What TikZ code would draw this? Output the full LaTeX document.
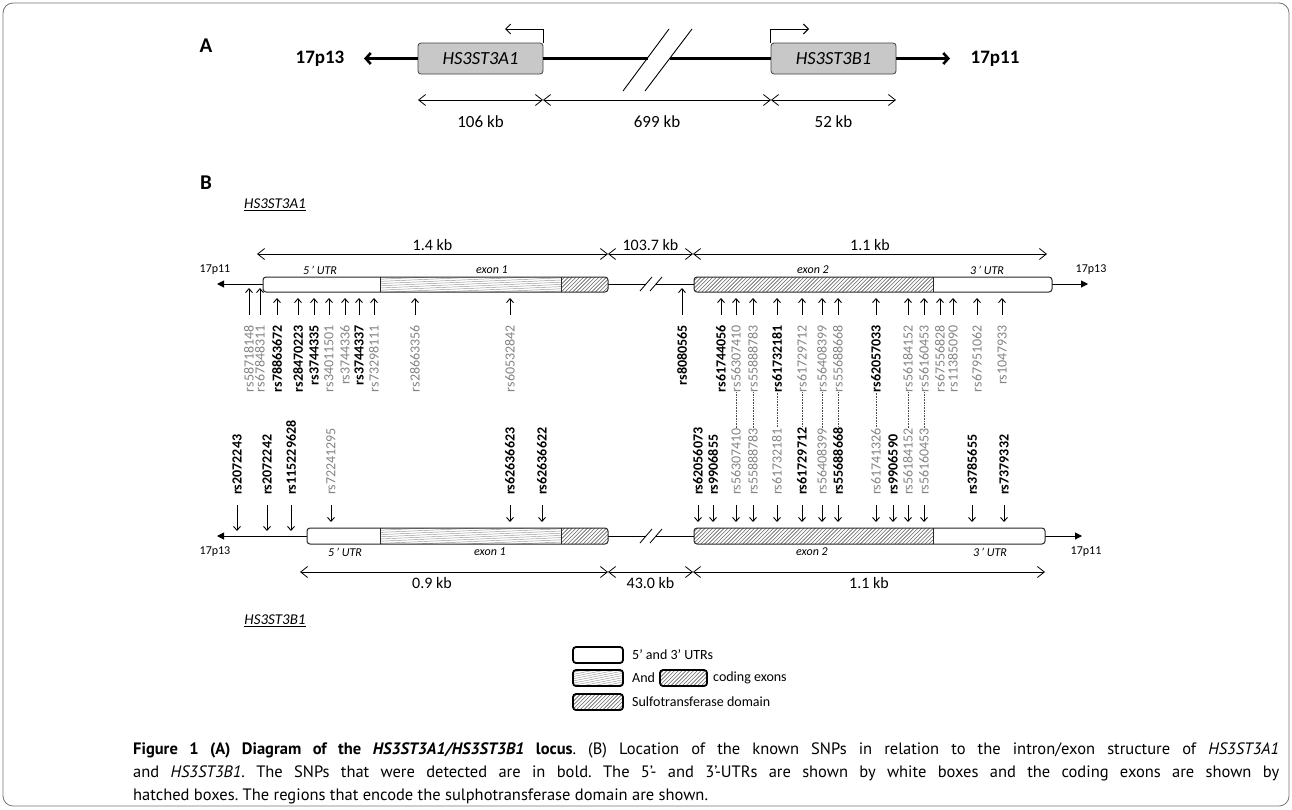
\documentclass[tikz,border=0pt]{standalone}
\usepackage{fontspec}
\setmainfont{Carlito}
\newfontfamily\capfont{PT Sans}
\usetikzlibrary{arrows.meta}
\definecolor{snpgray}{RGB}{132,132,132}
\definecolor{boxgray}{RGB}{200,200,200}
\definecolor{hatchc}{RGB}{100,100,100}
\definecolor{stripec}{RGB}{150,150,150}
\newcommand\fs[1]{\fontsize{#1}{#1}\selectfont}
\newcommand\hatchfill[4]{%
  \begin{scope}
    \clip (#1,#2) rectangle (#3,#4);
    \pgfmathsetmacro\hh{#4-#2}
    \pgfmathtruncatemacro\nn{(#3-#1+\hh)/3.8+1}
    \foreach \k in {0,...,\nn}{\draw[hatchline] ({#1-\hh+\k*3.8},#4) -- ++(\hh,-\hh);}
  \end{scope}}
\newcommand\stripefill[5]{%
  \begin{scope}
    \clip (#1,#2) rectangle (#3,#4);
    \foreach \k in {0,...,16}{\draw[stripeline] (#1,{#2+\k*2.2}) -- (#3,{#2+\k*2.2-#5});}
  \end{scope}}
\begin{document}
\frenchspacing
\begin{tikzpicture}[x=1pt,y=-1pt,
  every node/.style={inner sep=0pt},
  hatchline/.style={draw=hatchc, line width=0.6pt},
  stripeline/.style={draw=stripec, line width=0.45pt},
  boxline/.style={draw=black!85, line width=1pt},
  chrline/.style={draw=black, line width=1pt},
  chrtip/.style={-{Triangle[length=7pt,width=7pt]}},
  dimarr/.style={<->, >={Straight Barb[length=7pt,width=11pt]}, line width=0.8pt},
  snparr/.style={->, >={Straight Barb[length=4pt,width=7pt]}, line width=0.9pt},
  dotline/.style={densely dotted, line width=0.6pt, draw=black!70},
  snpT/.style={rotate=90, anchor=east},
  snpB/.style={rotate=90, anchor=west},
  kb/.style={font=\fs{16}},
  kbA/.style={font=\fs{17}},
  small/.style={font=\fs{12}},
  smallit/.style={font=\fs{12}\itshape},
  boxA/.style={draw=black!75, fill=boxgray, rounded corners=3pt, minimum width=125pt, minimum height=31pt, font=\fs{18.5}\itshape, line width=0.8pt},
  chrlbl/.style={font=\fs{19}\bfseries},
  promo/.style={->, >={Straight Barb[length=5pt,width=10pt]}, line width=0.9pt},
  thickchr/.style={line width=2.6pt},
  legbox/.style={draw=black, line width=1.8pt, rounded corners=3pt},
  legtext/.style={anchor=west, font=\fs{14}},
  captext/.style={anchor=west, font=\capfont\fs{16.5}}
]
\useasboundingbox (0,0) rectangle (1292,809);
\draw[draw=black!55, line width=0.8pt, rounded corners=10pt] (3,3) rectangle (1289,806);

% ---------------- Panel A
\node[font=\fs{21}\bfseries] (lblA) at (206,46) {A};
\node[chrlbl] (c13) at (320,58.5) {17p13};
\node[boxA] (g1) at (480.5,58.5) {HS3ST3A1};
\node[boxA] (g2) at (833.5,58.5) {HS3ST3B1};
\node[chrlbl] (c11) at (995,58.5) {17p11};
\coordinate (tipA1) at (364,58.5);
\coordinate (tipA2) at (950,58.5);
\draw[thickchr, -{Straight Barb[length=5pt,width=11pt]}] (g1.west) -- (tipA1);
\draw[thickchr, -{Straight Barb[length=5pt,width=11pt]}] (g2.east) -- (tipA2);
\coordinate (brk1) at (648,58.5);
\coordinate (brk2) at (670,58.5);
\draw[thickchr] (g1.east) -- (brk1) (brk2) -- (g2.west);
\coordinate (s1a) at (623,91); \coordinate (s1b) at (669,29);
\coordinate (s2a) at (645,91); \coordinate (s2b) at (692,29);
\draw[line width=0.9pt] (s1a) -- (s1b) (s2a) -- (s2b);
\coordinate (pA) at (505,29);
\coordinate (pB) at (809,29);
\draw[promo] (g1.north east) |- (pA);
\draw[promo] (g2.north west) |- (pB);
\coordinate (a0) at (418,100); \coordinate (a1) at (543,100);
\coordinate (a2) at (771,100); \coordinate (a3) at (896,100);
\draw[dimarr] (a0) -- node[kbA, yshift=-22pt] (k106) {106 kb} (a1);
\draw[dimarr] (a1) -- node[kbA, yshift=-22pt] (k699) {699 kb} (a2);
\draw[dimarr] (a2) -- node[kbA, yshift=-22pt] (k52) {52 kb} (a3);

% ---------------- Panel B
\node[font=\fs{21}\bfseries] (lblB) at (206,183) {B};
\node[font=\fs{15}\itshape] (tA) at (275,205) {\underline{HS3ST3A1}};
\node[font=\fs{15}\itshape] (tB) at (275,621) {\underline{HS3ST3B1}};

% top dimension arrows
\coordinate (d0) at (257,254); \coordinate (d1) at (608,254);
\coordinate (d2) at (693,254); \coordinate (d3) at (1047,254);
\draw[dimarr] (d0) -- node[kb, yshift=9pt] (k14) {1.4 kb} (d1);
\draw[dimarr] (d1) -- node[kb, yshift=9pt] (k103) {103.7 kb} (d2);
\draw[dimarr] (d2) -- node[kb, yshift=9pt] (k11a) {1.1 kb} (d3);

% top gene
\node[small] (e11) at (215,270) {17p11};
\node[small] (e13) at (1091,270) {17p13};
\node[smallit] (u5a) at (320,270) {5\,’ UTR};
\node[smallit] (x1a) at (492,270) {exon 1};
\node[smallit] (x2a) at (813,270) {exon 2};
\node[smallit] (u3a) at (987,270) {3\,’ UTR};
\coordinate (tl1) at (263,284); \coordinate (tt1) at (217,284);
\coordinate (tl2) at (608,284); \coordinate (tl3) at (646,284);
\coordinate (tl4) at (656,284); \coordinate (tl5) at (694,284);
\coordinate (tl6) at (1052,284); \coordinate (tt2) at (1088,284);
\draw[chrline, chrtip] (tl1) -- (tt1);
\draw[chrline] (tl2) -- (tl3) (tl4) -- (tl5);
\draw[chrline, chrtip] (tl6) -- (tt2);
\draw[line width=0.8pt] (640,291) -- (652,277) (650,291) -- (662,277);
\begin{scope}
  \clip[rounded corners=3pt] (263,277) rectangle (608,292);
  \fill[white] (263,277) rectangle (608,292);
  \stripefill{380}{277}{561}{292}{8}
  \hatchfill{561}{277}{608}{292}
\end{scope}
\draw[boxline, rounded corners=3pt] (263,277) rectangle (608,292);
\draw[boxline] (380,277) -- (380,292) (561,277) -- (561,292);
\begin{scope}
  \clip[rounded corners=3pt] (694,277) rectangle (1052,292);
  \fill[white] (694,277) rectangle (1052,292);
  \hatchfill{694}{277}{933}{292}
\end{scope}
\draw[boxline, rounded corners=3pt] (694,277) rectangle (1052,292);
\draw[boxline] (933,277) -- (933,292);

% bottom gene
\node[small] (f13) at (215,552) {17p13};
\node[small] (f11) at (1086,552) {17p11};
\node[smallit] (u5b) at (345,552) {5\,’ UTR};
\node[smallit] (x1b) at (490,552) {exon 1};
\node[smallit] (x2b) at (812,552) {exon 2};
\node[smallit] (u3b) at (990,552) {3\,’ UTR};
\coordinate (bl1) at (307,536); \coordinate (bt1) at (217,536);
\coordinate (bl2) at (608,536); \coordinate (bl3) at (646,536);
\coordinate (bl4) at (656,536); \coordinate (bl5) at (694,536);
\coordinate (bl6) at (1045,536); \coordinate (bt2) at (1082,536);
\draw[chrline, chrtip] (bl1) -- (bt1);
\draw[chrline] (bl2) -- (bl3) (bl4) -- (bl5);
\draw[chrline, chrtip] (bl6) -- (bt2);
\draw[line width=0.8pt] (640,543) -- (652,529) (650,543) -- (662,529);
\begin{scope}
  \clip[rounded corners=3pt] (307,528) rectangle (608,544);
  \fill[white] (307,528) rectangle (608,544);
  \stripefill{380}{528}{561}{544}{8}
  \hatchfill{561}{528}{608}{544}
\end{scope}
\draw[boxline, rounded corners=3pt] (307,528) rectangle (608,544);
\draw[boxline] (380,528) -- (380,544) (561,528) -- (561,544);
\begin{scope}
  \clip[rounded corners=3pt] (694,528) rectangle (1045,544);
  \fill[white] (694,528) rectangle (1045,544);
  \hatchfill{694}{528}{933}{544}
\end{scope}
\draw[boxline, rounded corners=3pt] (694,528) rectangle (1045,544);
\draw[boxline] (933,528) -- (933,544);

% bottom dimension arrows
\coordinate (e0) at (300,572); \coordinate (e1) at (608,572);
\coordinate (e2) at (693,572); \coordinate (e3) at (1045,572);
\draw[dimarr] (e0) -- (e1);
\node[kb] (k09) at (432,583) {0.9 kb};
\draw[dimarr] (e1) -- node[kb, yshift=-11pt] (k43) {43.0 kb} (e2);
\draw[dimarr] (e2) -- node[kb, yshift=-11pt] (k11b) {1.1 kb} (e3);

% SNP tips
\coordinate (tipT) at (0,298);
\coordinate (tipTL) at (0,288);
\coordinate (tipB) at (0,522);
\coordinate (tipBL) at (0,531);

\foreach \x/\nm/\cl/\ft/\tp [count=\i] in {
 249/rs58718148/snpgray/\mdseries/tipTL,
 260/rs67848311/snpgray/\mdseries/tipTL,
 277/rs78863672/black/\bfseries/tipT,
 298/rs28470223/black/\bfseries/tipT,
 314/rs3744335/black/\bfseries/tipT,
 329/rs34011501/snpgray/\mdseries/tipT,
 345/rs3744336/snpgray/\mdseries/tipT,
 359/rs3744337/black/\bfseries/tipT,
 374/rs73298111/snpgray/\mdseries/tipT,
 415/rs28663356/snpgray/\mdseries/tipT,
 510/rs60532842/snpgray/\mdseries/tipT,
 682/rs8080565/black/\bfseries/tipTL,
 721/rs61744056/black/\bfseries/tipT,
 736/rs56307410/snpgray/\mdseries/tipT,
 753/rs55888783/snpgray/\mdseries/tipT,
 777/rs61732181/black/\bfseries/tipT,
 802/rs61729712/snpgray/\mdseries/tipT,
 822/rs56408399/snpgray/\mdseries/tipT,
 838/rs55688668/snpgray/\mdseries/tipT,
 876/rs62057033/black/\bfseries/tipT,
 908/rs56184152/snpgray/\mdseries/tipT,
 924/rs56160453/snpgray/\mdseries/tipT,
 940/rs67556828/snpgray/\mdseries/tipT,
 953/rs11385090/snpgray/\mdseries/tipT,
 977/rs67951062/snpgray/\mdseries/tipT,
 1002/rs1047933/snpgray/\mdseries/tipT}
{
  \node[snpT, text=\cl, font=\fs{14}\ft] (T\i) at (\x,325) {\nm};
  \draw[snparr] ([yshift=10pt]T\i.east) -- (T\i.east |- \tp);
}

\foreach \x/\nm/\cl/\ft/\tp [count=\i] in {
 237/rs2072243/black/\bfseries/tipBL,
 267/rs2072242/black/\bfseries/tipBL,
 291/rs115229628/black/\bfseries/tipBL,
 331/rs72241295/snpgray/\mdseries/tipB,
 510/rs62636623/black/\bfseries/tipB,
 542/rs62636622/black/\bfseries/tipB,
 698/rs62056073/black/\bfseries/tipB,
 713/rs9906855/black/\bfseries/tipB,
 736/rs56307410/snpgray/\mdseries/tipB,
 753/rs55888783/snpgray/\mdseries/tipB,
 777/rs61732181/snpgray/\mdseries/tipB,
 802/rs61729712/black/\bfseries/tipB,
 822/rs56408399/snpgray/\mdseries/tipB,
 838/rs55688668/black/\bfseries/tipB,
 876/rs61741326/snpgray/\mdseries/tipB,
 893/rs9906590/black/\bfseries/tipB,
 908/rs56184152/snpgray/\mdseries/tipB,
 924/rs56160453/snpgray/\mdseries/tipB,
 972/rs3785655/black/\bfseries/tipB,
 1004/rs7379332/black/\bfseries/tipB}
{
  \node[snpB, text=\cl, font=\fs{14}\ft] (B\i) at (\x,495) {\nm};
  \draw[snparr] ([yshift=-10pt]B\i.west) -- (B\i.west |- \tp);
}

\foreach \a/\b in {14/9,15/10,16/11,17/12,18/13,19/14,20/15,21/17,22/18}
  \draw[dotline] (T\a.west) -- (B\b.east);

% ---------------- Legend
\draw[legbox, fill=white] (573,647) rectangle (623,663);
\node[legtext] (lg1) at (632,655) {5’ and 3’ UTRs};
\begin{scope}
  \clip[rounded corners=3pt] (573,670) rectangle (623,686);
  \stripefill{573}{670}{623}{686}{10}
\end{scope}
\draw[legbox] (573,670) rectangle (623,686);
\node[legtext] (lg2) at (632,678) {And};
\begin{scope}
  \clip[rounded corners=3pt] (660,670) rectangle (707,686);
  \hatchfill{660}{670}{707}{686}
\end{scope}
\draw[legbox] (660,670) rectangle (707,686);
\node[legtext] (lg3) at (713,678) {coding exons};
\begin{scope}
  \clip[rounded corners=3pt] (573,694) rectangle (623,710);
  \hatchfill{573}{694}{623}{710}
\end{scope}
\draw[legbox] (573,694) rectangle (623,710);
\node[legtext] (lg4) at (632,702) {Sulfotransferase domain};

% ---------------- Caption
\node[captext] (cap1) at (133,750) {\makebox[1146pt][s]{\textbf{Figure 1 (A) Diagram of the \textit{HS3ST3A1/HS3ST3B1} locus}. (B) Location of the known SNPs in relation to the intron/exon structure of \textit{HS3ST3A1}}};
\node[captext] (cap2) at (133,773) {\makebox[1146pt][s]{and \textit{HS3ST3B1}. The SNPs that were detected are in bold. The 5’- and 3’-UTRs are shown by white boxes and the coding exons are shown by}};
\node[captext] (cap3) at (133,796) {hatched boxes. The regions that encode the sulphotransferase domain are shown.};
\end{tikzpicture}
\end{document}
